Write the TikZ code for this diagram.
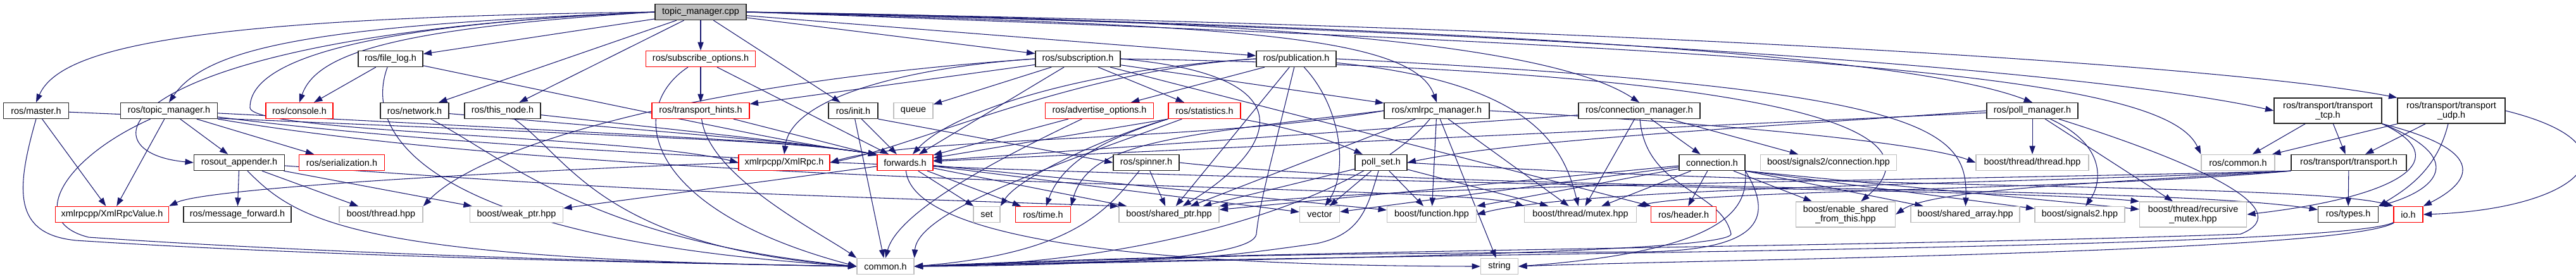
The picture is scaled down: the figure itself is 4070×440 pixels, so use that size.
\documentclass[tikz,border=0pt]{standalone}
\usepackage{fontspec}
\setmainfont{Liberation Sans}
\usetikzlibrary{arrows.meta,backgrounds}
\definecolor{edgeBlue}{RGB}{25,25,112}
\definecolor{boxGray}{RGB}{191,191,191}
\definecolor{boxRed}{RGB}{255,0,0}

\begin{document}
\begin{tikzpicture}[
    x=0.75pt, y=-0.75pt,
    box/.style={rectangle, draw=black!85, fill=white, line width=1pt, minimum height=18.75pt,
        inner xsep=1pt, inner ysep=0pt, align=center, font=\fontsize{10.8}{11.3}\selectfont},
    redbox/.style={box, draw=boxRed},
    graybox/.style={box, draw=boxGray},
    rootbox/.style={box, fill=boxGray},
    twoline/.style={minimum height=30pt},
    inc/.style={-{Triangle[length=10pt,width=7pt]}, color=edgeBlue, line width=0.8pt}
]
\useasboundingbox (0,0) rectangle (4070,440);

% File being documented
\node[rootbox, minimum width=108pt] (cpp) at (1107,19) {topic\_manager.cpp};

% Row 2
\node[box, minimum width=76.5pt] (filelog) at (617,93) {ros/file\_log.h};
\node[redbox, minimum width=129.75pt] (subopts) at (1107,93) {ros/subscribe\_options.h};
\node[box, minimum width=100.5pt] (subscr) at (1703,93) {ros/subscription.h};
\node[box, minimum width=94.5pt] (publ) at (2048,93) {ros/publication.h};

% Row 3
\node[box, minimum width=77.25pt] (master) at (57,175) {ros/master.h};
\node[box, minimum width=114.75pt] (tmh) at (267,175) {ros/topic\_manager.h};
\node[redbox, minimum width=79.5pt] (console) at (473,175) {ros/console.h};
\node[box, minimum width=81pt] (network) at (655,175) {ros/network.h};
\node[box, minimum width=90pt] (thisnode) at (794,175) {ros/this\_node.h};
\node[redbox, minimum width=115.5pt] (hints) at (1107,175) {ros/transport\_hints.h};
\node[box, minimum width=58.5pt] (init) at (1348,175) {ros/init.h};
\node[graybox, minimum width=46.5pt] (queue) at (1443,175) {queue};
\node[redbox, minimum width=128.25pt] (advopts) at (1737,175) {ros/advertise\_options.h};
\node[redbox, minimum width=85.5pt] (stats) at (1903,175) {ros/statistics.h};
\node[box, minimum width=124.5pt] (xmlmgr) at (2270,175) {ros/xmlrpc\_manager.h};
\node[box, minimum width=144pt] (connmgr) at (2590,175) {ros/connection\_manager.h};
\node[box, minimum width=108pt] (pollmgr) at (3211,175) {ros/poll\_manager.h};
\node[box, twoline, minimum width=127.5pt] (tcp) at (3678,175) {ros/transport/transport\\\_tcp.h};
\node[box, twoline, minimum width=127.5pt] (udp) at (3873,175) {ros/transport/transport\\\_udp.h};

% Row 4
\node[box, minimum width=107.25pt] (rosout) at (378,257) {rosout\_appender.h};
\node[redbox, minimum width=101.25pt] (serial) at (540,257) {ros/serialization.h};
\node[redbox, minimum width=108pt] (xmlrpc) at (1239,257) {xmlrpcpp/XmlRpc.h};
\node[redbox, minimum width=66pt] (fwd) at (1430,257) {forwards.h};
\node[box, minimum width=78pt] (spinner) at (1811,257) {ros/spinner.h};
\node[box, minimum width=61.5pt] (pollset) at (2182,257) {poll\_set.h};
\node[box, minimum width=78pt] (conn) at (2705,257) {connection.h};
\node[graybox, minimum width=161.25pt] (sigconn) at (2889,257) {boost/signals2/connection.hpp};
\node[graybox, minimum width=133.5pt] (thrthr) at (3211,257) {boost/thread/thread.hpp};
\node[graybox, minimum width=87pt] (roscommon) at (3536,257) {ros/common.h};
\node[box, minimum width=136.5pt] (transport) at (3711,257) {ros/transport/transport.h};

% Row 5
\node[redbox, minimum width=134.25pt] (xrv) at (177,339) {xmlrpcpp/XmlRpcValue.h};
\node[box, minimum width=127.5pt] (msgfwd) at (375,339) {ros/message\_forward.h};
\node[graybox, minimum width=99pt] (thread) at (602,339) {boost/thread.hpp};
\node[graybox, minimum width=110.25pt] (weakptr) at (816,339) {boost/weak\_ptr.hpp};
\node[graybox, minimum width=31.5pt] (set) at (1559,339) {set};
\node[redbox, minimum width=65.25pt] (time) at (1648,339) {ros/time.h};
\node[graybox, minimum width=118.5pt] (sharedptr) at (1847,339) {boost/shared\_ptr.hpp};
\node[graybox, minimum width=47.25pt] (vector) at (2085,339) {vector};
\node[graybox, minimum width=105.75pt] (function) at (2262,339) {boost/function.hpp};
\node[graybox, minimum width=132.75pt] (mutex) at (2497,339) {boost/thread/mutex.hpp};
\node[redbox, minimum width=77.25pt] (header) at (2660,339) {ros/header.h};
\node[graybox, twoline, minimum width=117.75pt] (enable) at (2916,339) {boost/enable\_shared\\\_from\_this.hpp};
\node[graybox, minimum width=129pt] (sharray) at (3105,339) {boost/shared\_array.hpp};
\node[graybox, minimum width=106.5pt] (signals) at (3286,339) {boost/signals2.hpp};
\node[graybox, twoline, minimum width=126.75pt] (recmutex) at (3465,339) {boost/thread/recursive\\\_mutex.hpp};
\node[box, minimum width=71.25pt] (types) at (3710,339) {ros/types.h};
\node[redbox, minimum width=34.5pt] (io) at (3805,339) {io.h};

% Row 6
\node[graybox, minimum width=67.5pt] (common) at (1399,421) {common.h};
\node[graybox, minimum width=44.25pt] (string) at (2369,421) {string};

\begin{pgfonlayer}{background}
% topic_manager.cpp
\draw[inc] (cpp.west) .. controls (300,28) and (95,75) .. (master.north);
\draw[inc] (cpp.west) .. controls (520,40) and (330,70) .. (tmh.north);
\draw[inc] (cpp.west) .. controls (180,55) and (120,240) .. (rosout.west);
\draw[inc] (cpp.west) .. controls (620,45) and (500,85) .. (console.north);
\draw[inc] (cpp) -- (filelog);
\draw[inc] (cpp) -- (network);
\draw[inc] (cpp) -- (thisnode);
\draw[inc] (cpp) -- (subopts);
\draw[inc] (cpp) -- (init);
\draw[inc] (cpp.west) .. controls (550,40) and (395,100) .. (395,170) .. controls (395,210) and (1000,215) .. (xmlrpc.west);
\draw[inc] (cpp) -- (subscr);
\draw[inc] (cpp) -- (publ);
\draw[inc] (cpp.east) .. controls (1900,40) and (2230,50) .. (xmlmgr.north);
\draw[inc] (cpp.east) .. controls (2000,30) and (2450,70) .. (connmgr.north);
\draw[inc] (cpp.east) .. controls (2200,40) and (3000,80) .. (pollmgr.north);
\draw[inc] (cpp.east) .. controls (2400,45) and (3300,110) .. (tcp.west);
\draw[inc] (cpp.east) .. controls (2500,40) and (3500,100) .. (udp.north west);
\draw[inc] (cpp.east) .. controls (2900,80) and (3420,120) .. (roscommon.north west);

% ros/master.h
\draw[inc] (master) -- (xrv);
\draw[inc] (master.south) .. controls (25,300) and (20,370) .. (120,380) .. controls (500,405) and (1000,415) .. (common.west);
\draw[inc] (master) .. controls (1250,225) .. (fwd.north west);

% ros/topic_manager.h
\draw[inc] (tmh) -- (xrv);
\draw[inc] (tmh) -- (rosout);
\draw[inc] (tmh) -- (serial);
\draw[inc] (tmh) .. controls (100,250) and (40,350) .. (140,375) .. controls (500,400) and (1000,415) .. (common.west);
\draw[inc] (tmh) .. controls (1250,225) .. (fwd.north west);
\draw[inc] (tmh) .. controls (1000,300) and (2300,290) .. (mutex.north west);
\draw[inc] (tmh) .. controls (1200,295) and (3100,290) .. (recmutex.north west);

% rosout_appender.h
\draw[inc] (rosout) -- (msgfwd);
\draw[inc] (rosout) -- (thread);
\draw[inc] (rosout) -- (weakptr);
\draw[inc] (rosout) .. controls (1000,300) .. (sharedptr.north west);
\draw[inc] (rosout) .. controls (470,350) and (560,410) .. (common.west);

% ros/file_log.h, ros/network.h, ros/this_node.h
\draw[inc] (filelog) -- (console);
\draw[inc] (filelog) .. controls (570,220) and (690,380) .. (common.west);
\draw[inc] (filelog) .. controls (1250,225) .. (fwd.north west);
\draw[inc] (network) .. controls (1250,225) .. (fwd.north west);
\draw[inc] (network) .. controls (800,250) and (930,380) .. (common.west);
\draw[inc] (thisnode) .. controls (1250,225) .. (fwd.north west);
\draw[inc] (thisnode) .. controls (900,250) and (950,390) .. (common.west);

% ros/subscribe_options.h, ros/transport_hints.h, ros/init.h
\draw[inc] (subopts) -- (hints);
\draw[inc] (subopts) -- (fwd);
\draw[inc] (subopts) .. controls (990,170) and (1010,330) .. (common.west);
\draw[inc] (hints) -- (fwd);
\draw[inc] (hints) .. controls (1120,280) and (1300,370) .. (common.north west);
\draw[inc] (init) -- (fwd);
\draw[inc] (init.south east) -- (spinner.west);
\draw[inc] (init) -- (common);

% ros/subscription.h
\draw[inc] (subscr) -- (queue);
\draw[inc] (subscr) -- (fwd);
\draw[inc] (subscr) -- (stats);
\draw[inc] (subscr) -- (hints);
\draw[inc] (subscr.west) .. controls (1450,105) and (1250,150) .. (xmlrpc.north);
\draw[inc] (subscr.west) .. controls (1100,130) and (760,230) .. (thread.north east);
\draw[inc] (subscr.east) .. controls (2080,120) and (2010,240) .. (sharedptr);
\draw[inc] (subscr) -- (xmlmgr);
\draw[inc] (subscr) -- (header);
\draw[inc] (subscr.east) .. controls (2800,110) and (3080,200) .. (enable);

% ros/publication.h
\draw[inc] (publ) -- (advopts);
\draw[inc] (publ.west) .. controls (1700,110) and (1500,180) .. (fwd);
\draw[inc] (publ.west) .. controls (1700,110) and (1450,230) .. (xmlrpc.east);
\draw[inc] (publ) .. controls (2010,250) and (1990,320) .. (1985,370) .. controls (1980,410) and (1700,420) .. (common.east);
\draw[inc] (publ) .. controls (2120,170) and (2130,270) .. (vector);
\draw[inc] (publ) -- (sharedptr);
\draw[inc] (publ) .. controls (2420,130) and (2470,230) .. (mutex);
\draw[inc] (publ.east) .. controls (3040,140) and (3110,200) .. (sharray);

% ros/advertise_options.h, ros/statistics.h, ros/spinner.h
\draw[inc] (advopts) -- (fwd);
\draw[inc] (advopts) .. controls (1600,240) and (1420,330) .. (common.north);
\draw[inc] (stats.south west) -- (fwd);
\draw[inc] (stats.south west) .. controls (1750,215) and (1610,280) .. (set.north east);
\draw[inc] (stats.south west) .. controls (1760,215) and (1680,250) .. (time);
\draw[inc] (stats) .. controls (1700,250) and (1450,330) .. (common.north east);
\draw[inc] (stats.south east) .. controls (2030,200) and (2100,220) .. (pollset);
\draw[inc] (spinner) -- (sharedptr);
\draw[inc] (spinner) .. controls (1750,330) and (1700,400) .. (common.east);
\draw[inc] (spinner.east) .. controls (2300,305) and (3400,290) .. (types);

% ros/xmlrpc_manager.h
\draw[inc] (xmlmgr.west) .. controls (1900,225) and (1450,215) .. (xmlrpc.east);
\draw[inc] (xmlmgr.west) .. controls (1850,215) and (1720,225) .. (time.north east);
\draw[inc] (xmlmgr) -- (sharedptr);
\draw[inc] (xmlmgr) -- (function);
\draw[inc] (xmlmgr) -- (string);
\draw[inc] (xmlmgr) -- (mutex);
\draw[inc] (xmlmgr.east) .. controls (2800,200) and (3050,230) .. (thrthr.west);
\draw[inc] (xmlmgr) .. controls (2150,320) and (1800,420) .. (common.east);

% ros/connection_manager.h
\draw[inc] (connmgr) -- (fwd);
\draw[inc] (connmgr) -- (conn);
\draw[inc] (connmgr) -- (mutex);
\draw[inc] (connmgr) -- (sigconn);
\draw[inc] (connmgr) .. controls (2600,300) and (2720,300) .. (2735,370) .. controls (2730,400) and (2000,410) .. (common.east);

% connection.h
\draw[inc] (conn) -- (header);
\draw[inc] (conn) -- (mutex);
\draw[inc] (conn) -- (function);
\draw[inc] (conn) -- (vector);
\draw[inc] (conn) -- (sharedptr);
\draw[inc] (conn) -- (enable);
\draw[inc] (conn.south east) -- (sharray);
\draw[inc] (conn.south east) -- (signals);
\draw[inc] (conn.south east) -- (recmutex);
\draw[inc] (conn.south east) .. controls (2760,320) and (2750,395) .. (string.east);
\draw[inc] (conn.south east) .. controls (2800,340) and (2790,395) .. (2600,398) .. controls (2000,402) .. (common.east);

% poll_set.h, ros/poll_manager.h
\draw[inc] (pollset) -- (sharedptr);
\draw[inc] (pollset) -- (vector);
\draw[inc] (pollset) -- (function);
\draw[inc] (pollset) -- (mutex);
\draw[inc] (pollset.east) .. controls (2900,300) and (3650,290) .. (io.north west);
\draw[inc] (pollset) .. controls (2160,330) and (2150,370) .. (2080,385) .. controls (1900,410) .. (common.east);
\draw[inc] (pollmgr) -- (fwd);
\draw[inc] (pollmgr.west) .. controls (2800,200) and (2400,220) .. (pollset.east);
\draw[inc] (pollmgr) -- (thrthr);
\draw[inc] (pollmgr) .. controls (3330,230) and (3320,290) .. (signals);
\draw[inc] (pollmgr) -- (recmutex);
\draw[inc] (pollmgr) .. controls (3450,250) and (3640,330) .. (3540,370) .. controls (3000,390) and (2000,395) .. (common.east);

% ros/transport/transport_tcp.h, _udp.h, transport.h
\draw[inc] (tcp) -- (roscommon);
\draw[inc] (tcp) -- (transport);
\draw[inc] (tcp.south east) .. controls (3880,250) and (3800,310) .. (recmutex.east);
\draw[inc] (tcp.south east) .. controls (3900,250) and (3850,300) .. (types.north east);
\draw[inc] (tcp.south east) .. controls (3940,240) and (3900,290) .. (io.north east);
\draw[inc] (udp) -- (roscommon);
\draw[inc] (udp) -- (transport);
\draw[inc] (udp) .. controls (3850,270) and (3800,300) .. (types.north east);
\draw[inc] (udp.east) .. controls (4180,230) and (4080,330) .. (io.east);
\draw[inc] (transport) -- (types);
\draw[inc] (transport.south west) .. controls (3300,290) and (3050,300) .. (enable.east);
\draw[inc] (transport.south west) .. controls (3200,290) and (2500,295) .. (function.east);
\draw[inc] (transport.south west) .. controls (3100,285) and (2200,290) .. (sharedptr.north east);
\draw[inc] (transport.south west) .. controls (3300,300) and (2700,300) .. (mutex.north east);

% io.h
\draw[inc] (io) .. controls (3700,395) and (2200,400) .. (common.east);
\draw[inc] (io) .. controls (3700,400) and (2700,410) .. (string.east);

% forwards.h, xmlrpcpp/XmlRpc.h
\draw[inc] (fwd) -- (set);
\draw[inc] (fwd) -- (time);
\draw[inc] (fwd) -- (sharedptr);
\draw[inc] (fwd) -- (weakptr);
\draw[inc] (fwd) -- (function);
\draw[inc] (fwd) -- (vector);
\draw[inc] (fwd) .. controls (1440,350) and (1650,420) .. (string.west);
\draw[inc] (xmlrpc.west) .. controls (700,275) and (320,300) .. (xrv.north east);
\end{pgfonlayer}

\end{tikzpicture}
\end{document}
